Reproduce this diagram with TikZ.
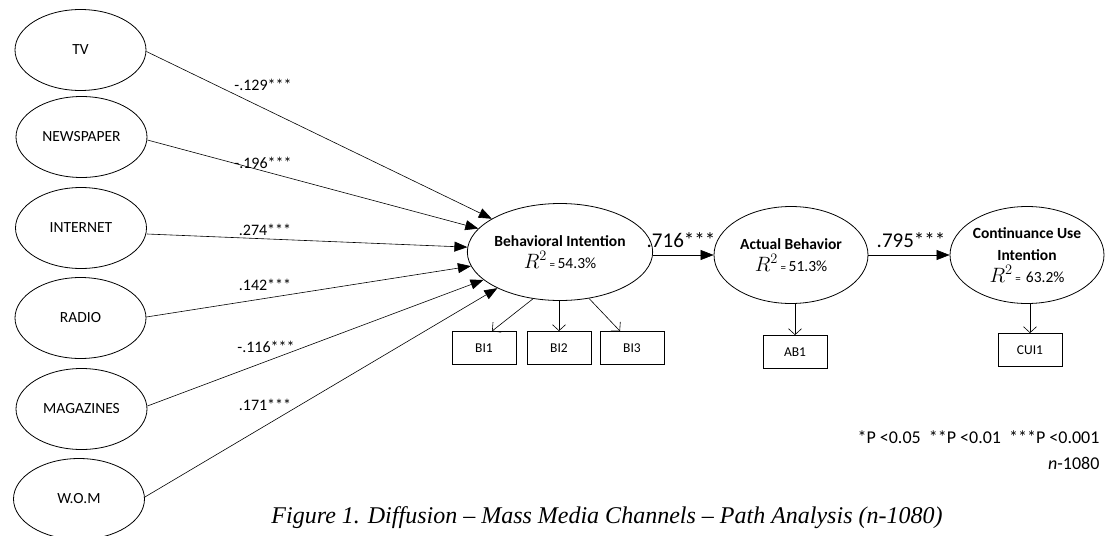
\documentclass[tikz,border=0pt]{standalone}
\usepackage{fontspec}
\setmainfont{Carlito}
\newfontfamily\capfont{Liberation Serif}
\usetikzlibrary{shapes.geometric,arrows.meta}
\begin{document}
\begin{tikzpicture}[x=1pt,y=-1pt,
  src/.style={draw,ellipse,line width=0.8pt,minimum width=131pt,minimum height=81pt,inner sep=0pt,font=\fontsize{15.5}{18}\selectfont},
  lat/.style={draw,ellipse,line width=0.8pt,minimum width=154pt,minimum height=97pt,inner sep=0pt,align=center,font=\fontsize{15.5}{22}\selectfont},
  ind/.style={draw,rectangle,line width=0.8pt,minimum width=64pt,minimum height=33pt,inner sep=0pt,font=\fontsize{13.5}{16}\selectfont},
  path/.style={line width=0.6pt,-{Triangle[length=13pt,width=10pt]}},
  load/.style={line width=0.6pt,-{Straight Barb[length=6pt,width=13pt]}},
  coef/.style={font=\fontsize{16}{18}\selectfont},
  bigcoef/.style={font=\fontsize{21}{24}\selectfont},
  note/.style={font=\fontsize{18}{20}\selectfont,anchor=east},
]
\useasboundingbox (0,0) rectangle (1107,535);
\newcommand{\rsq}[1]{{\fontsize{20}{22}\selectfont$R^{2}$}\,{\fontsize{11}{12}\selectfont=}\,#1}

\node[src] (tv)  at (80.5,50) {TV};
\node[src] (np)  at (81.5,137) {NEWSPAPER};
\node[src] (int) at (81,228) {INTERNET};
\node[src] (rad) at (80.5,318) {RADIO};
\node[src] (mag) at (81.5,409) {MAGAZINES};
\node[src] (wom) at (79,499) {W.O.M};

\node[lat] (bi) at (560,252) {\textbf{Behavioral Intention}\\\rsq{54.3\%}};
\node[lat] (ab) at (791,255) {\textbf{Actual Behavior}\\\rsq{51.3\%}};
\node[lat] (cui) at (1027,255) {\textbf{Continuance Use}\\\textbf{Intention}\\\rsq{\,63.2\%}};

\node[ind] (bi1) at (484,348) {BI1};
\node[ind] (bi2) at (559,348) {BI2};
\node[ind] (bi3) at (632,348) {BI3};
\node[ind] (ab1) at (795,352) {AB1};
\node[ind] (cui1) at (1030,350) {CUI1};

\draw[path] ([yshift=-1.5pt]tv.east) -- (bi.154);
\draw[path] ([yshift=-3pt]np.east) -- (bi.164);
\draw[path] ([yshift=-6pt]int.east) -- (bi.177);
\draw[path] ([yshift=1pt]rad.east) -- (bi.189);
\draw[path] ([yshift=3pt]mag.east) -- (bi.200);
\draw[path] ([yshift=2pt]wom.east) -- (bi.210);

\node[coef] (c1) at (263,85) {-.129***};
\node[coef] (c2) at (263,163) {-.196***};
\node[coef] (c3) at (265,230) {.274***};
\node[coef] (c4) at (265,285) {.142***};
\node[coef] (c5) at (266,347) {-.116***};
\node[coef] (c6) at (265,405) {.171***};

\draw[path] (bi.east |- ab.west) -- (ab.west);
\draw[path] (ab.east) -- (cui.west);
\node[bigcoef] (c7) at (681,240) {.716***};
\node[bigcoef] (c8) at (911,240) {.795***};

\draw[load] (bi.-120) -- (bi1.north -| 492,0);
\draw[load] (bi2.north |- bi.south) -- (bi2.north);
\draw[load] (bi.-58) -- (bi3.north -| 620,0);
\draw[load] (ab1.north |- ab.south) -- (ab1.north);
\draw[load] (cui1.north |- cui.south) -- (cui1.north);

\node[note] (sig) at (1103,437) {*P {<}0.05\ \ **P {<}0.01\ \ ***P {<}0.001};
\node[note] (n) at (1103,463) {\textit{n}-1080};
\node[font=\capfont\itshape\fontsize{24}{26}\selectfont] (cap) at (607,518) {Figure 1. Diffusion – Mass Media Channels – Path Analysis (n-1080)};
\end{tikzpicture}
\end{document}
